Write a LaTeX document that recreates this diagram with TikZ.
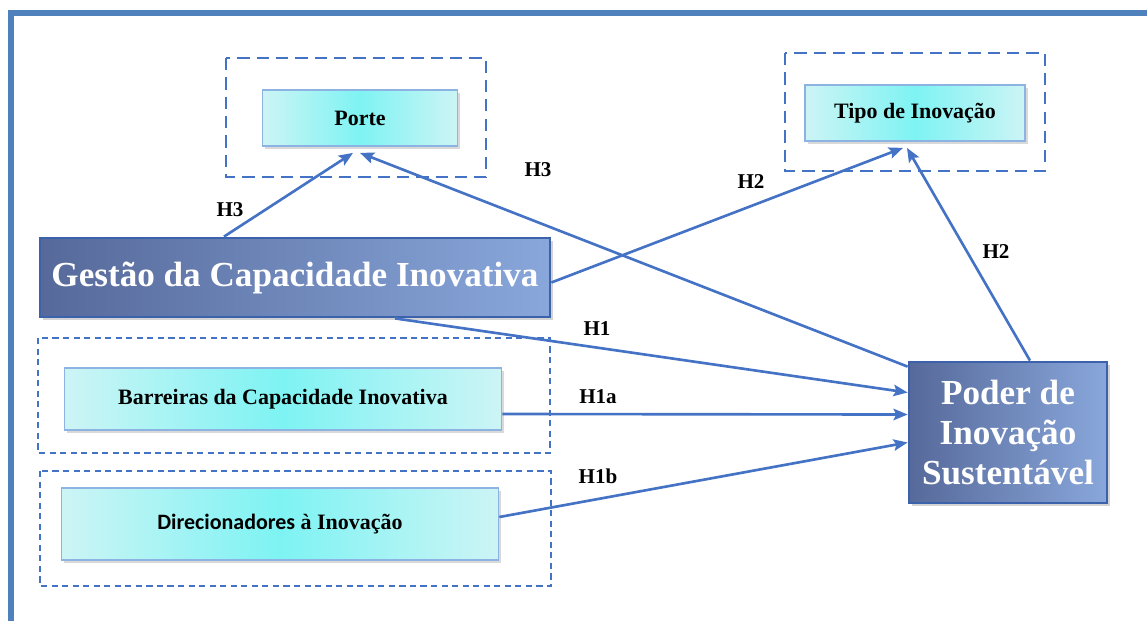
\documentclass[tikz,border=0pt]{standalone}
\usepackage{fontspec}
\setmainfont{Liberation Serif}
\newfontfamily\carl{Carlito}
\usetikzlibrary{arrows.meta,shadows}

\definecolor{frameblue}{HTML}{4F81BD}
\definecolor{lineblue}{HTML}{4472C4}
\definecolor{darkbl}{HTML}{56699A}
\definecolor{lightbl}{HTML}{89A7DB}
\definecolor{edgebl}{HTML}{3D62AC}
\definecolor{cyanedge}{HTML}{CDF4F5}
\definecolor{cyanmid}{HTML}{7EF3F3}
\definecolor{cyanline}{HTML}{8DB3E2}

\tikzset{
  bigbox/.style={draw=edgebl, line width=1.6pt, left color=darkbl, right color=lightbl,
    text=white, font=\bfseries\fontsize{20}{23}\selectfont, align=center, inner sep=0pt,
    drop shadow={opacity=0.35, shadow xshift=1.5pt, shadow yshift=-1.5pt}},
  smallbox/.style={draw=cyanline, line width=1pt, left color=cyanedge, right color=cyanedge,
    middle color=cyanmid, font=\bfseries\fontsize{12.5}{14}\selectfont, inner sep=0pt,
    drop shadow={opacity=0.3, shadow xshift=1.5pt, shadow yshift=-1.5pt}},
  group/.style={draw=lineblue, line width=1.4pt, dash pattern=on 7pt off 4pt},
  groupfine/.style={draw=lineblue, line width=1.2pt, dash pattern=on 3.5pt off 2.5pt},
  arr/.style={draw=lineblue, line width=1.5pt, -{Stealth[length=8pt,width=6.5pt,inset=1.5pt]}},
  hyp/.style={font=\bfseries\fontsize{12}{14}\selectfont, inner sep=0pt}
}

\begin{document}
\begin{tikzpicture}[x=0.02cm, y=-0.02cm]
  \useasboundingbox (0,0) rectangle (1147,620);
  % Frame
  \draw[frameblue, line width=3.4pt] (11,700) -- (11,13) -- (1200,13);
  % Groups
  \draw[group] (226,58) rectangle (486,177);
  \draw[group] (785,53) rectangle (1045,171);
  \draw[groupfine] (38,338) rectangle (550,453);
  \draw[groupfine] (40,471) rectangle (551,586);
  % Boxes
  \node[smallbox, minimum width=3.9cm, minimum height=1.12cm] (po) at (360,118) {Porte};
  \node[smallbox, minimum width=4.4cm, minimum height=1.12cm] (tp) at (915,113) {Tipo de Inovação};
  \node[bigbox, minimum width=10.2cm, minimum height=1.58cm] (gc) at (295,277.5) {Gestão da Capacidade Inovativa};
  \node[smallbox, minimum width=8.74cm, minimum height=1.24cm] (br) at (283,399) {Barreiras da Capacidade Inovativa};
  \node[smallbox, minimum width=8.74cm, minimum height=1.44cm] (dr) at (280,524) {{\carl Direcionadores} à Inovação};
  \node[bigbox, minimum width=3.96cm, minimum height=2.82cm] (pi) at (1008,432.5) {Poder de\\Inovação\\Sustentável};
  % Ways
  \draw[arr] ([xshift=-1.42cm]gc.north) -- ([xshift=-0.14cm,yshift=-0.12cm]po.south);
  \draw[arr] ([yshift=-0.12cm]pi.north west) -- ([xshift=0cm,yshift=-0.12cm]po.south);
  \draw[arr] ([yshift=-0.1cm]gc.east) -- ([xshift=-0.24cm,yshift=-0.12cm]tp.south);
  \draw[arr] ([xshift=0.44cm]pi.north) -- ([xshift=-0.16cm,yshift=-0.12cm]tp.south);
  \draw[arr] ([xshift=2cm]gc.south) -- ([yshift=0.8cm]pi.west);
  \draw[arr] ([yshift=-0.3cm]br.east) -- ([yshift=0.36cm]pi.west);
  \draw[arr] ([yshift=0.14cm]dr.east) -- ([yshift=-0.2cm]pi.west);
  % Labels
  \node[hyp] (h3a) at (230,210) {H3};
  \node[hyp] (h3b) at (538,170) {H3};
  \node[hyp] (h2a) at (751,182) {H2};
  \node[hyp] (h2b) at (996,252) {H2};
  \node[hyp] (h1) at (597,329) {H1};
  \node[hyp] (h1a) at (598,397) {H1a};
  \node[hyp] (h1b) at (598,476) {H1b};
\end{tikzpicture}
\end{document}
